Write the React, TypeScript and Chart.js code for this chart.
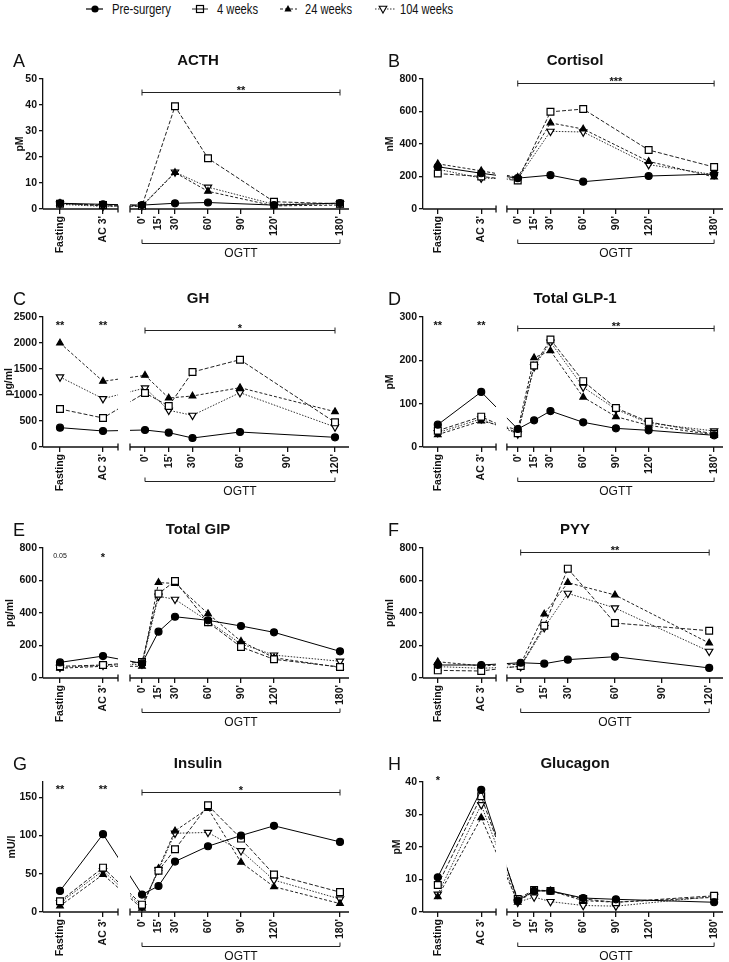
import React, { useEffect, useRef } from "react";
import { Chart, registerables } from "chart.js";
Chart.register(...registerables);

const FONT = "'Liberation Sans', Arial, Helvetica, sans-serif";
Chart.defaults.font.family = FONT;

const SERIES_NAMES = ["Pre-surgery", "4 weeks", "24 weeks", "104 weeks"];
const BASE_LABELS = ["Fasting", "AC 3'"];

// Each series: [Fasting, AC 3', then one value per OGTT time]
const ACTH_TIMES = [0, 30, 60, 120, 180];
const ACTH_TICKS = [0, 15, 30, 60, 90, 120, 180];
const ACTH_PRE = [2.2, 1.8, 1.5, 2.2, 2.5, 1.5, 2.3];
const ACTH_W4 = [2.0, 1.5, 1.2, 39.5, 19.5, 2.8, 2.0];
const ACTH_W24 = [2.2, 1.2, 1.0, 14.0, 6.8, 1.2, 1.5];
const ACTH_W104 = [1.8, 1.0, 1.3, 14.2, 8.4, 1.8, 2.0];

const CORT_TIMES = [0, 30, 60, 120, 180];
const CORT_TICKS = [0, 15, 30, 60, 90, 120, 180];
const CORT_PRE = [260, 220, 190, 208, 168, 203, 215];
const CORT_W4 = [218, 200, 175, 598, 615, 363, 258];
const CORT_W24 = [278, 235, 195, 530, 492, 293, 197];
const CORT_W104 = [245, 190, 185, 478, 474, 273, 211];

const GH_TIMES = [0, 15, 30, 60, 120];
const GH_TICKS = [0, 15, 30, 60, 90, 120];
const GH_PRE = [372, 308, 327, 276, 173, 288, 186];
const GH_W4 = [731, 558, 1040, 788, 1442, 1679, 474];
const GH_W24 = [2000, 1263, 1378, 942, 981, 1141, 679];
const GH_W104 = [1346, 929, 1135, 705, 609, 1045, 385];

const GLP_TIMES = [0, 15, 30, 60, 90, 120, 180];
const GLP_TICKS = [0, 15, 30, 60, 90, 120, 180];
const GLP_PRE = [51.5, 127, 41.5, 61.5, 83, 57, 43, 38.5, 27];
const GLP_W4 = [37.7, 70, 32, 188, 248, 152, 90, 58, 30];
const GLP_W24 = [28.5, 60, 40, 206, 222, 115, 70, 50, 28];
const GLP_W104 = [33, 65, 30, 185, 242, 138, 87, 55, 37];

const GIP_TIMES = [0, 15, 30, 60, 90, 120, 180];
const GIP_TICKS = [0, 15, 30, 60, 90, 120, 180];
const GIP_PRE = [96, 135, 90, 285, 377, 355, 320, 281, 164];
const GIP_W4 = [72, 80, 98, 519, 597, 343, 191, 115, 68];
const GIP_W24 = [60, 72, 72, 587, 582, 396, 226, 125, 65];
const GIP_W104 = [65, 78, 85, 503, 484, 350, 210, 141, 103];

const PYY_TIMES = [0, 15, 30, 60, 120];
const PYY_TICKS = [0, 15, 30, 60, 90, 120];
const PYY_PRE = [80, 80, 94, 88, 113, 131, 62];
const PYY_W4 = [47, 43, 74, 322, 673, 338, 291];
const PYY_W24 = [100, 75, 85, 394, 587, 511, 215];
const PYY_W104 = [70, 60, 70, 310, 521, 431, 164];

const INS_TIMES = [0, 15, 30, 60, 90, 120, 180];
const INS_TICKS = [0, 15, 30, 60, 90, 120, 180];
const INS_PRE = [27.6, 101.8, 22.8, 34, 66, 86, 100, 112.7, 91.7];
const INS_W4 = [14, 58, 9.6, 54, 82, 139.5, 96, 49, 26];
const INS_W24 = [7.9, 49, 4.8, 57, 106, 135.5, 65, 33, 11];
const INS_W104 = [12, 54, 7, 55, 103, 104, 80, 41.7, 17];

const GLUC_TIMES = [0, 15, 30, 60, 90, 180];
const GLUC_TICKS = [0, 15, 30, 60, 90, 120, 180];
const GLUC_PRE = [10.7, 37.6, 3.5, 6.5, 6.5, 4.3, 3.9, 3.0];
const GLUC_W4 = [8.3, 35.6, 4.0, 6.8, 6.5, 4.0, 3.0, 5.0];
const GLUC_W24 = [4.7, 29, 3.0, 6.5, 6.5, 3.5, 3.0, 4.5];
const GLUC_W104 = [5.5, 33, 3.0, 4.6, 3.2, 2.0, 1.8, 4.8];

type Star = { at: 0 | 1; text: string; y: number; small?: boolean };
type PanelDef = {
  letter: string;
  title: string;
  yTitle: string;
  yMax: number;
  yStep: number;
  times: number[];
  ticks: number[];
  series: number[][];
  col: 0 | 1;
  row: number;
  yTitleOffset: number;
  bracket?: { y: number; text: string };
  stars?: Star[];
};

const PANELS: PanelDef[] = [
  { letter: "A", title: "ACTH", yTitle: "pM", yMax: 50, yStep: 10, times: ACTH_TIMES, ticks: ACTH_TICKS,
    series: [ACTH_PRE, ACTH_W4, ACTH_W24, ACTH_W104], col: 0, row: 0, yTitleOffset: 23,
    bracket: { y: 45, text: "**" } },
  { letter: "B", title: "Cortisol", yTitle: "nM", yMax: 800, yStep: 200, times: CORT_TIMES, ticks: CORT_TICKS,
    series: [CORT_PRE, CORT_W4, CORT_W24, CORT_W104], col: 1, row: 0, yTitleOffset: 33,
    bracket: { y: 775, text: "***" } },
  { letter: "C", title: "GH", yTitle: "pg/ml", yMax: 2500, yStep: 500, times: GH_TIMES, ticks: GH_TICKS,
    series: [GH_PRE, GH_W4, GH_W24, GH_W104], col: 0, row: 1, yTitleOffset: 34,
    bracket: { y: 2250, text: "*" },
    stars: [{ at: 0, text: "**", y: 2260 }, { at: 1, text: "**", y: 2260 }] },
  { letter: "D", title: "Total GLP-1", yTitle: "pM", yMax: 300, yStep: 100, times: GLP_TIMES, ticks: GLP_TICKS,
    series: [GLP_PRE, GLP_W4, GLP_W24, GLP_W104], col: 1, row: 1, yTitleOffset: 33,
    bracket: { y: 274, text: "**" },
    stars: [{ at: 0, text: "**", y: 272 }, { at: 1, text: "**", y: 272 }] },
  { letter: "E", title: "Total GIP", yTitle: "pg/ml", yMax: 800, yStep: 200, times: GIP_TIMES, ticks: GIP_TICKS,
    series: [GIP_PRE, GIP_W4, GIP_W24, GIP_W104], col: 0, row: 2, yTitleOffset: 33,
    stars: [{ at: 0, text: "0.05", y: 738, small: true }, { at: 1, text: "*", y: 720 }] },
  { letter: "F", title: "PYY", yTitle: "pg/ml", yMax: 800, yStep: 200, times: PYY_TIMES, ticks: PYY_TICKS,
    series: [PYY_PRE, PYY_W4, PYY_W24, PYY_W104], col: 1, row: 2, yTitleOffset: 33,
    bracket: { y: 775, text: "**" } },
  { letter: "G", title: "Insulin", yTitle: "mU/l", yMax: 170, yStep: 50, times: INS_TIMES, ticks: INS_TICKS,
    series: [INS_PRE, INS_W4, INS_W24, INS_W104], col: 0, row: 3, yTitleOffset: 31,
    bracket: { y: 157, text: "*" },
    stars: [{ at: 0, text: "**", y: 155 }, { at: 1, text: "**", y: 155 }] },
  { letter: "H", title: "Glucagon", yTitle: "pM", yMax: 40, yStep: 10, times: GLUC_TIMES, ticks: GLUC_TICKS,
    series: [GLUC_PRE, GLUC_W4, GLUC_W24, GLUC_W104], col: 1, row: 3, yTitleOffset: 26,
    stars: [{ at: 0, text: "*", y: 39.5 }] },
];

const ROW_TOPS = [79, 317, 548, 782];
const PLOT_H = 130;
const PAD_TOP = 40;
const CANVAS_H = 220;
const X_H = 48;

const COLS = [
  { left: 0, width: 365, yW: 43, padR: 16, f: 17, a: 60, le: 75, rs: 87, z: 99, letterX: 13 },
  { left: 365, width: 364, yW: 58, padR: 2, f: 15, a: 59, le: 74, rs: 85, z: 96, letterX: 23 },
];

const STYLES = [
  { pointStyle: "circle", radius: 3.5, bg: "#000", dash: [] as number[], rot: 0, color: "#000" },
  { pointStyle: "rect", radius: 4.8, bg: "#fff", dash: [4, 2], rot: 0, color: "#222" },
  { pointStyle: "triangle", radius: 3.8, bg: "#000", dash: [3, 2], rot: 0, color: "#222" },
  { pointStyle: "triangle", radius: 4.2, bg: "#fff", dash: [1.5, 1.5], rot: 180, color: "#333" },
];

function layoutFor(p: PanelDef) {
  const c = COLS[p.col];
  const W = c.width - c.yW - c.padR;
  const tMax = p.ticks[p.ticks.length - 1];
  const z = tMax === 120 ? c.z + 3 : c.z;
  const pad = tMax === 120 ? 14 : 9;
  const k = (W - pad - z) / tMax;
  return {
    ...c,
    W,
    tMax,
    xMin: -z / k,
    xMax: (W - z) / k,
    fastX: (c.f - z) / k,
    acX: (c.a - z) / k,
    leftEnd: (c.le - z) / k,
    rightStart: (c.rs - z) / k,
    top: ROW_TOPS[p.row] - PAD_TOP,
  };
}

function makeDecor(p: PanelDef, lay: ReturnType<typeof layoutFor>) {
  return {
    id: "decor" + p.letter,
    beforeDatasetsDraw(chart: any) {
      const { ctx, chartArea: ca, scales } = chart;
      const x = scales.x;
      const le = x.getPixelForValue(lay.leftEnd);
      const rs = x.getPixelForValue(lay.rightStart);
      const by = ca.bottom;
      ctx.save();
      ctx.strokeStyle = "#111";
      ctx.lineWidth = 1.3;
      ctx.beginPath();
      ctx.moveTo(ca.left, by);
      ctx.lineTo(le, by);
      ctx.moveTo(rs, by);
      ctx.lineTo(ca.right, by);
      ctx.moveTo(le, by - 3.5);
      ctx.lineTo(le, by + 3.5);
      ctx.moveTo(rs, by - 3.5);
      ctx.lineTo(rs, by + 3.5);
      ctx.stroke();
      ctx.restore();
      ctx.save();
      ctx.beginPath();
      ctx.rect(0, 0, le, chart.height);
      ctx.rect(rs, 0, chart.width - rs, chart.height);
      ctx.clip();
    },
    afterDatasetsDraw(chart: any) {
      chart.ctx.restore();
    },
    afterDraw(chart: any) {
      const { ctx, chartArea: ca, scales } = chart;
      const x = scales.x;
      const y = scales.y;
      ctx.save();
      ctx.fillStyle = "#111";
      ctx.strokeStyle = "#222";
      ctx.lineWidth = 1;
      ctx.textBaseline = "alphabetic";
      ctx.font = `18px ${FONT}`;
      ctx.textAlign = "left";
      ctx.fillText(p.letter, lay.letterX, ca.top - 12);
      ctx.font = `bold 15px ${FONT}`;
      ctx.textAlign = "center";
      ctx.fillText(p.title, (ca.left + ca.right) / 2 + 2, ca.top - 14);
      ctx.save();
      ctx.translate(ca.left - p.yTitleOffset, (ca.top + ca.bottom) / 2);
      ctx.rotate(-Math.PI / 2);
      ctx.font = `bold 10.5px ${FONT}`;
      ctx.textBaseline = "middle";
      ctx.fillText(p.yTitle, 0, 0);
      ctx.restore();
      const x0 = x.getPixelForValue(0);
      const x1 = x.getPixelForValue(lay.tMax);
      if (p.bracket) {
        const by = Math.round(y.getPixelForValue(p.bracket.y)) + 0.5;
        ctx.beginPath();
        ctx.moveTo(x0, by - 3);
        ctx.lineTo(x0, by + 3);
        ctx.moveTo(x0, by);
        ctx.lineTo(x1, by);
        ctx.moveTo(x1, by - 3);
        ctx.lineTo(x1, by + 3);
        ctx.stroke();
        ctx.font = `bold 11px ${FONT}`;
        ctx.textAlign = "center";
        ctx.fillText(p.bracket.text, (x0 + x1) / 2, by + 1);
      }
      (p.stars || []).forEach((s) => {
        const sx = x.getPixelForValue(s.at === 0 ? lay.fastX : lay.acX);
        const sy = y.getPixelForValue(s.y);
        ctx.font = s.small ? `7px ${FONT}` : `bold 11px ${FONT}`;
        ctx.textAlign = "center";
        ctx.fillText(s.text, sx, sy);
      });
      const oy = Math.round(ca.bottom + 34) + 0.5;
      ctx.beginPath();
      ctx.moveTo(x0, oy - 4);
      ctx.lineTo(x0, oy);
      ctx.lineTo(x1, oy);
      ctx.lineTo(x1, oy - 4);
      ctx.stroke();
      ctx.font = `12px ${FONT}`;
      ctx.textAlign = "center";
      ctx.fillText("OGTT", (x0 + x1) / 2, ca.bottom + 48);
      ctx.restore();
    },
  };
}

function PanelChart({ p }: { p: PanelDef }) {
  const ref = useRef<HTMLCanvasElement>(null);
  const lay = layoutFor(p);
  useEffect(() => {
    const L = layoutFor(p);
    const xTickVals = [L.fastX, L.acX, ...p.ticks];
    const xTickLabels = [...BASE_LABELS, ...p.ticks.map((t) => `${t}'`)];
    const datasets = p.series.map((vals, si) => {
      const st = STYLES[si];
      const xs = [L.fastX, L.acX, ...p.times];
      return {
        label: SERIES_NAMES[si],
        data: vals.map((v, i) => ({ x: xs[i], y: v })),
        borderColor: st.color,
        borderWidth: 1,
        borderDash: st.dash,
        pointStyle: st.pointStyle,
        pointRadius: st.radius,
        pointRotation: st.rot,
        pointBackgroundColor: st.bg,
        pointBorderColor: "#000",
        pointBorderWidth: 1.2,
        tension: 0,
        fill: false,
        clip: false as any,
      };
    });
    const chart = new Chart(ref.current as HTMLCanvasElement, {
      type: "line",
      data: { datasets: datasets as any },
      options: {
        animation: false,
        responsive: false,
        events: [],
        layout: { padding: { top: PAD_TOP, left: 0, right: L.padR, bottom: CANVAS_H - PAD_TOP - PLOT_H - X_H } },
        plugins: { legend: { display: false }, tooltip: { enabled: false }, title: { display: false } },
        scales: {
          x: {
            type: "linear",
            min: L.xMin,
            max: L.xMax,
            afterBuildTicks: (s: any) => {
              s.ticks = xTickVals.map((v) => ({ value: v }));
            },
            afterFit: (s: any) => {
              s.height = X_H;
            },
            border: { display: false },
            grid: { display: true, drawOnChartArea: false, drawTicks: true, tickLength: 5, color: "#111", lineWidth: 1.3 },
            ticks: {
              autoSkip: false,
              minRotation: 90,
              maxRotation: 90,
              padding: 2,
              color: "#111",
              font: { size: 10.5, weight: "bold" },
              callback: (_v: any, i: number) => xTickLabels[i],
            },
          },
          y: {
            type: "linear",
            min: 0,
            max: p.yMax,
            afterBuildTicks: (s: any) => {
              s.ticks = s.ticks.filter((t: any) => Math.abs(t.value / p.yStep - Math.round(t.value / p.yStep)) < 1e-6);
            },
            afterFit: (s: any) => {
              s.width = L.yW;
            },
            border: { display: true, color: "#111", width: 1.3 },
            grid: { display: true, drawOnChartArea: false, drawTicks: true, tickLength: 4, color: "#111", lineWidth: 1.3 },
            ticks: {
              stepSize: p.yStep,
              padding: 2,
              color: "#111",
              font: { size: 10.5, weight: "bold" },
              callback: (v: any) => String(v),
            },
          },
        },
      },
      plugins: [makeDecor(p, L) as any],
    });
    return () => chart.destroy();
  }, []);
  return (
    <canvas
      ref={ref}
      width={lay.width}
      height={CANVAS_H}
      style={{ position: "absolute", left: lay.left, top: lay.top, width: lay.width, height: CANVAS_H }}
    />
  );
}

const LEGEND_ITEMS = [
  { x1: 86, x2: 103, mx: 95, tx: 112, tw: 59 },
  { x1: 192, x2: 208, mx: 200, tx: 217, tw: 41 },
  { x1: 280, x2: 297, mx: 288, tx: 305, tw: 47 },
  { x1: 375, x2: 395, mx: 383, tx: 400, tw: 53 },
];

function Legend() {
  const my = 9;
  return (
    <svg width={729} height={30} style={{ position: "absolute", left: 0, top: 0 }}>
      {LEGEND_ITEMS.map((it, i) => {
        const st = STYLES[i];
        let marker: any = null;
        if (i === 0) marker = <circle cx={it.mx} cy={my} r={3.6} fill="#000" />;
        else if (i === 1)
          marker = (
            <g>
              <rect x={it.mx - 3.5} y={my - 3.5} width={7} height={7} fill="#fff" stroke="#000" strokeWidth={1.2} />
              <line x1={it.mx - 3.5} x2={it.mx + 3.5} y1={my} y2={my} stroke="#000" strokeWidth={1} />
            </g>
          );
        else if (i === 2)
          marker = <polygon points={`${it.mx},${my - 4} ${it.mx + 3.6},${my + 2.6} ${it.mx - 3.6},${my + 2.6}`} fill="#000" />;
        else
          marker = (
            <polygon
              points={`${it.mx},${my + 4} ${it.mx + 3.8},${my - 2.8} ${it.mx - 3.8},${my - 2.8}`}
              fill="#fff"
              stroke="#000"
              strokeWidth={1.1}
            />
          );
        return (
          <g key={i}>
            <line
              x1={it.x1}
              x2={it.x2}
              y1={my}
              y2={my}
              stroke={st.color}
              strokeWidth={1.2}
              strokeDasharray={st.dash.length ? st.dash.join(" ") : undefined}
            />
            {marker}
            <text
              x={it.tx}
              y={14}
              fontFamily={FONT}
              fontSize={14}
              fill="#111"
              textLength={it.tw}
              lengthAdjust="spacingAndGlyphs"
            >
              {SERIES_NAMES[i]}
            </text>
          </g>
        );
      })}
    </svg>
  );
}

export default function App() {
  return (
    <div style={{ position: "absolute", left: 0, top: 0, width: 729, height: 962, background: "#fff" }}>
      <Legend />
      {PANELS.map((p) => (
        <PanelChart key={p.letter} p={p} />
      ))}
    </div>
  );
}
